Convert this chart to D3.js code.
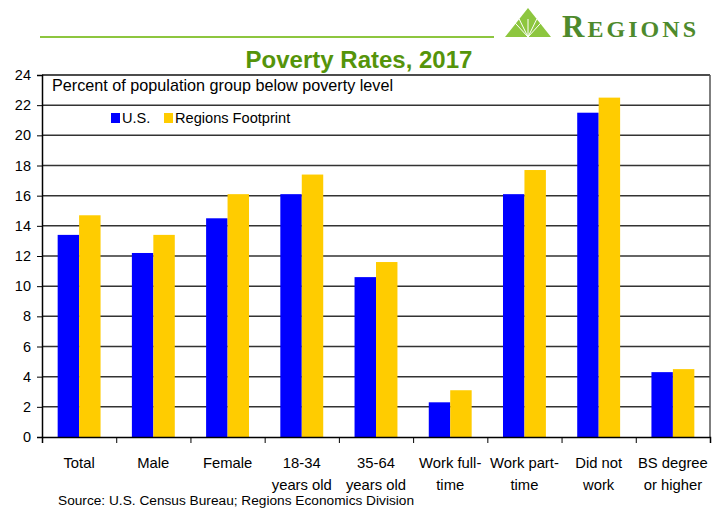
<!DOCTYPE html>
<html>
<head>
<meta charset="utf-8">
<script src="https://cdn.jsdelivr.net/npm/d3@7"></script>
<style>
  body { margin: 0; background: #fff; }
  svg { display: block; font-family: "Liberation Sans", Arial, sans-serif; }
</style>
</head>
<body>
<svg id="chart" width="717" height="510"></svg>
<script>
// chart data
var categories = ["Total", "Male", "Female", "18-34|years old", "35-64|years old",
  "Work full-|time", "Work part-|time", "Did not|work", "BS degree|or higher"];
var seriesNames = ["U.S.", "Regions Footprint"];
var usValues = [13.4, 12.2, 14.5, 16.1, 10.6, 2.3, 16.1, 21.5, 4.3];
var footprintValues = [14.7, 13.4, 16.1, 17.4, 11.6, 3.1, 17.7, 22.5, 4.5];
var yTicks = [0, 2, 4, 6, 8, 10, 12, 14, 16, 18, 20, 22, 24];
var colors = ["#0000ff", "#ffcc00"];

var svg = d3.select("#chart"),
    pLeft = 42, pRight = 710, pTop = 75, pBottom = 437;

var x0 = d3.scaleBand().domain(d3.range(categories.length)).range([pLeft, pRight]).padding(0);
var x1 = d3.scaleBand().domain([0, 1]).range([0, x0.bandwidth()]).paddingInner(0).paddingOuter(0.73);
var y = d3.scaleLinear().domain([0, 24]).range([pBottom, pTop]);

// header: green rule, logo, title
svg.append("line").attr("x1", 40).attr("x2", 494).attr("y1", 37).attr("y2", 37)
  .attr("stroke", "#8dc63f").attr("stroke-width", 2);

var logo = svg.append("g");
logo.append("path").attr("d", "M528,8 L551,37 L505,37 Z").attr("fill", "#8dc63f");
[-15, -8, 0, 8, 15].forEach(function(d) {
  logo.append("line").attr("x1", 528).attr("y1", 37).attr("x2", 528 + d * 1.1).attr("y2", 19)
    .attr("stroke", "#fff").attr("stroke-width", 1);
});
var lt = logo.append("text").attr("x", 562).attr("y", 37)
  .attr("font-family", "'Liberation Serif', 'DejaVu Serif', serif")
  .attr("font-weight", "bold").attr("fill", "#4e8a2c")
  .attr("textLength", 134).attr("lengthAdjust", "spacing");
lt.append("tspan").attr("font-size", 31).text("R");
lt.append("tspan").attr("font-size", 24).text("EGIONS");

svg.append("text").attr("x", 359).attr("y", 68).attr("text-anchor", "middle")
  .attr("font-size", 24).attr("font-weight", "bold").attr("fill", "#55940a")
  .text("Poverty Rates, 2017");

// gridlines
svg.append("g").selectAll("line").data(yTicks.filter(function(d) { return d > 0; }))
  .join("line")
  .attr("x1", pLeft).attr("x2", pRight)
  .attr("y1", function(d) { return y(d); }).attr("y2", function(d) { return y(d); })
  .attr("stroke", function(d) { return d === 24 ? "#111" : "#333"; }).attr("stroke-width", 1.5);
svg.append("line").attr("x1", pRight).attr("x2", pRight).attr("y1", pTop).attr("y2", pBottom)
  .attr("stroke", "#555").attr("stroke-width", 1.5);

// bars
var groups = svg.append("g").selectAll("g").data(categories).join("g")
  .attr("transform", function(d, i) { return "translate(" + x0(i) + ",0)"; });
groups.selectAll("rect")
  .data(function(d, i) { return [usValues[i], footprintValues[i]]; })
  .join("rect")
  .attr("x", function(d, j) { return x1(j); })
  .attr("width", x1.bandwidth())
  .attr("y", function(d) { return y(d); })
  .attr("height", function(d) { return pBottom - y(d); })
  .attr("fill", function(d, j) { return colors[j]; });

// y axis
var yAxis = svg.append("g").attr("transform", "translate(" + pLeft + ",0)")
  .call(d3.axisLeft(y).tickValues(yTicks).tickSize(5).tickPadding(6));
yAxis.select(".domain").attr("stroke", "#000").attr("stroke-width", 1.5);
yAxis.selectAll(".tick line").attr("stroke", "#000");
yAxis.selectAll("text").attr("font-size", 14.5).attr("fill", "#000")
  .attr("font-family", "'Liberation Sans', Arial, sans-serif");

// x axis
var xb = d3.scaleLinear().domain([0, categories.length]).range([pLeft, pRight]);
var xAxis = svg.append("g").attr("transform", "translate(0," + pBottom + ")")
  .call(d3.axisBottom(xb).tickValues(d3.range(categories.length + 1)).tickSize(6).tickFormat(""));
xAxis.select(".domain").attr("stroke", "#000").attr("stroke-width", 1.5);
xAxis.selectAll(".tick line").attr("stroke", "#000");

svg.append("g").selectAll("text").data(categories).join("text")
  .attr("x", function(d, i) { return x0(i) + x0.bandwidth() / 2; })
  .attr("y", 468).attr("text-anchor", "middle").attr("font-size", 14.8)
  .each(function(d) {
    var t = d3.select(this);
    d.split("|").forEach(function(line, k) {
      t.append("tspan").attr("x", t.attr("x")).attr("dy", k ? 22 : 0).text(line);
    });
  });

// notes and legend
svg.append("text").attr("x", 52).attr("y", 91).attr("font-size", 16.2)
  .text("Percent of population group below poverty level");
var legend = svg.append("g").selectAll("g").data(seriesNames).join("g")
  .attr("transform", function(d, i) { return "translate(" + (i ? 164 : 111) + ",113)"; });
legend.append("rect").attr("width", 9).attr("height", 10)
  .attr("fill", function(d, i) { return colors[i]; });
legend.append("text").attr("x", 11).attr("y", 10).attr("font-size", 14.6).text(function(d) { return d; });

svg.append("text").attr("x", 58).attr("y", 505).attr("font-size", 13.7)
  .text("Source: U.S. Census Bureau; Regions Economics Division");
</script>
</body>
</html>
